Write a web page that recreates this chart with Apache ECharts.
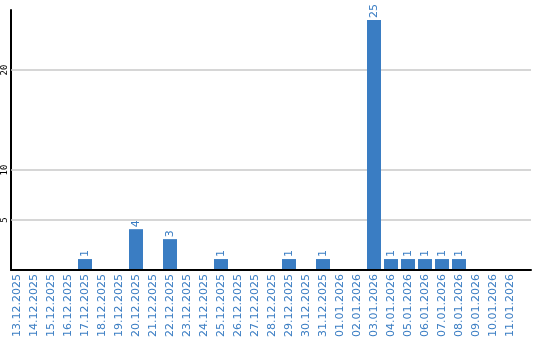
<!DOCTYPE html>
<html><head><meta charset="utf-8">
<script src="https://cdn.jsdelivr.net/npm/echarts@6/dist/echarts.min.js"></script>
<style>html,body{margin:0;padding:0;background:#fff}#c{width:540px;height:340px}</style>
</head><body><div id="c"></div>
<script>
var categories = ['13.12.2025','14.12.2025','15.12.2025','16.12.2025','17.12.2025','18.12.2025','19.12.2025','20.12.2025','21.12.2025','22.12.2025','23.12.2025','24.12.2025','25.12.2025','26.12.2025','27.12.2025','28.12.2025','29.12.2025','30.12.2025','31.12.2025','01.01.2026','02.01.2026','03.01.2026','04.01.2026','05.01.2026','06.01.2026','07.01.2026','08.01.2026','09.01.2026','10.01.2026','11.01.2026'];
var values = [0,0,0,0,1,0,0,4,0,3,0,0,1,0,0,0,1,0,1,0,0,25,1,1,1,1,1,0,0,0];
var gridLines = [5,10,20];
var yTickLabels = [5,10,20];

var blue = '#3a7dc3';
var chart = echarts.init(document.getElementById('c'), null, {renderer:'canvas'});
chart.setOption({
  animation:false,
  grid:[
    {left:8.5, top:10, width:510, height:260},
    {left:10.5, top:10, width:520.5, height:260}
  ],
  xAxis:[
    {type:'category', gridIndex:0, data:categories, boundaryGap:true,
     axisLine:{show:false}, axisTick:{show:false}, splitLine:{show:false},
     axisLabel:{rotate:90, interval:0, color:blue, fontFamily:'DejaVu Sans', fontSize:11, margin:5}},
    {type:'value', gridIndex:1, min:0, max:1, axisLine:{show:true, onZero:false, lineStyle:{color:'#000', width:2}},
     axisTick:{show:false}, axisLabel:{show:false}, splitLine:{show:false}}
  ],
  yAxis:[
    {type:'value', gridIndex:0, min:0, max:26, show:false},
    {type:'value', gridIndex:1, min:0, max:26, interval:5,
     axisLine:{show:true, lineStyle:{color:'#000', width:2}}, axisTick:{show:false}, splitLine:{show:false},
     axisLabel:{rotate:90, color:'#000', fontFamily:'DejaVu Sans Mono', fontSize:9, margin:2,
       formatter:function(v){return yTickLabels.indexOf(v)>=0 ? String(v) : '';}}}
  ],
  series:[
    {type:'line', xAxisIndex:1, yAxisIndex:1, data:[[0,0]], showSymbol:false, silent:true, z:1,
     lineStyle:{width:0},
     markLine:{silent:true, z:1, symbol:['none','none'], label:{show:false},
       lineStyle:{color:'#c8c8c8', width:1.5, type:'solid'},
       data:gridLines.map(function(v){return {yAxis:v};})}},
    {type:'bar', xAxisIndex:0, yAxisIndex:0, data:values, barWidth:14, z:10,
     itemStyle:{color:blue},
     label:{show:true, position:'top', rotate:90, align:'left', verticalAlign:'middle', distance:2,
       color:blue, fontFamily:'DejaVu Sans', fontSize:11,
       formatter:function(p){return p.value ? String(p.value) : '';}}}
  ]
});
</script></body></html>
